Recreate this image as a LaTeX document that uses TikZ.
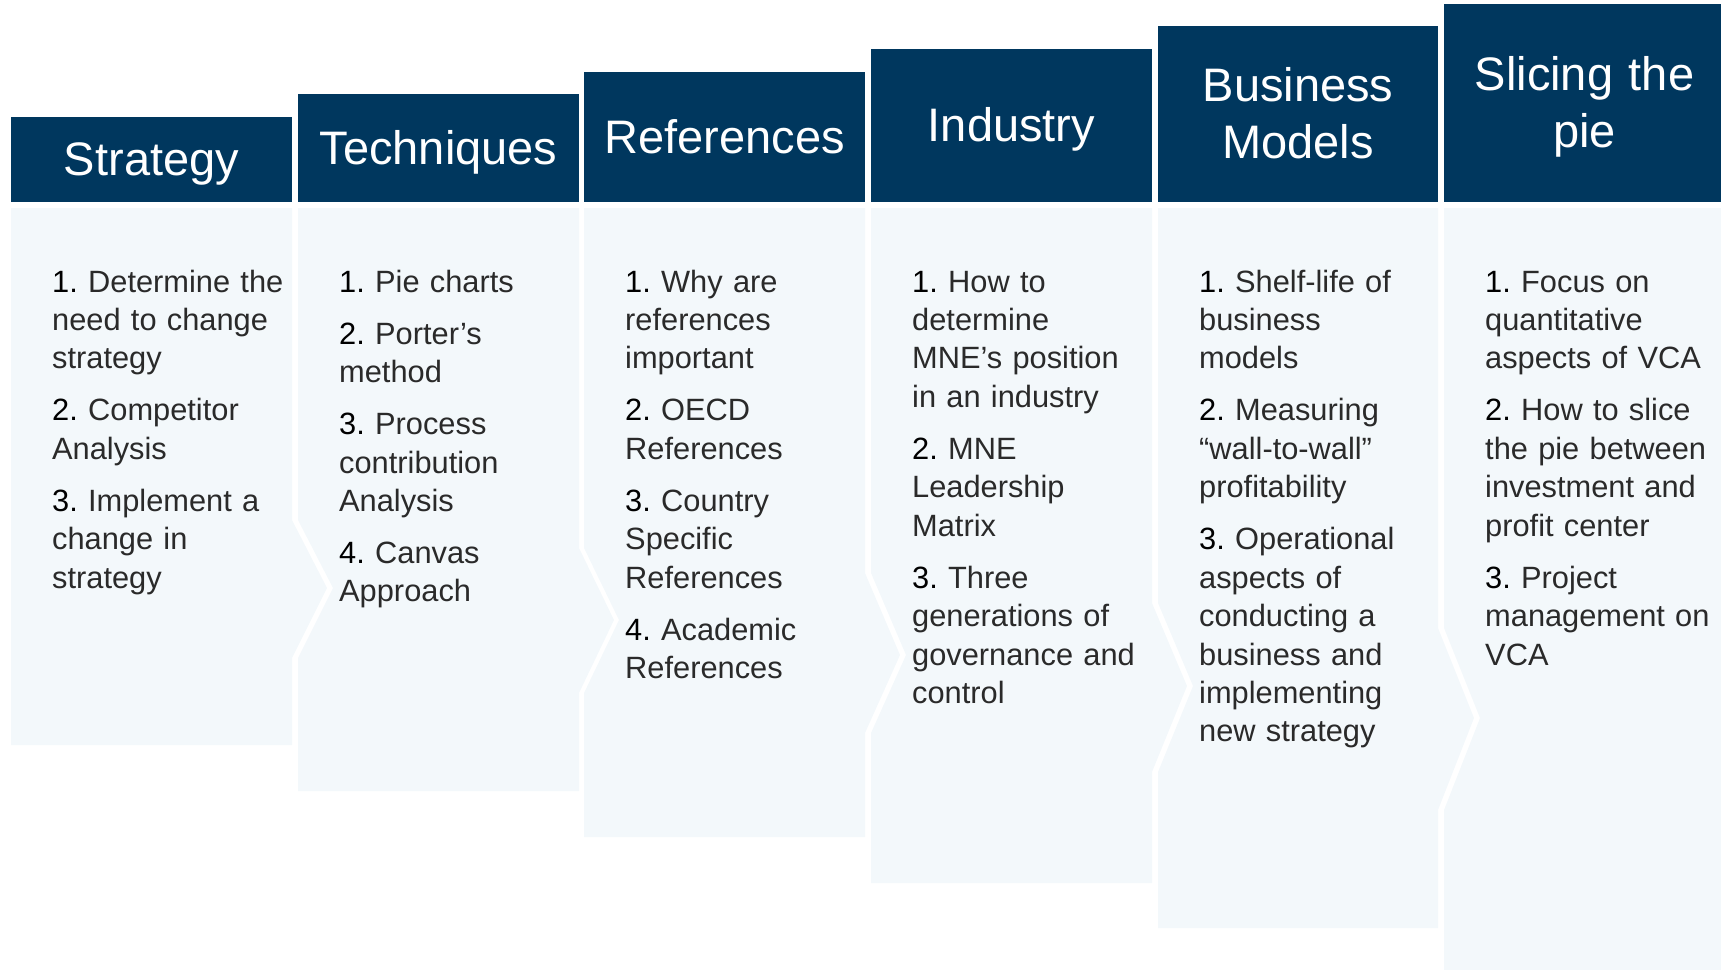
\documentclass[tikz,border=0pt]{standalone}
\usepackage{fontspec}
\setmainfont{Liberation Sans}
\frenchspacing
\definecolor{hdrblue}{RGB}{0,55,94}
\definecolor{bodybg}{RGB}{243,248,251}
\definecolor{txtgray}{RGB}{42,42,42}
\newcommand{\itnum}[1]{{\color{black}#1.}}
\tikzset{
  hdrbox/.style={fill=hdrblue},
  bodybox/.style={fill=bodybg},
  hdrtext/.style={text=white, font=\fontsize{47}{57}\selectfont, text width=281pt, align=center, inner sep=0pt, anchor=base},
  bodytext/.style={text=txtgray, font=\fontsize{30.8}{38.4}\selectfont\frenchspacing, text width=300pt, align=left, inner sep=0pt, anchor=base west},
}
\begin{document}
\begin{tikzpicture}[x=1pt,y=-1pt]
\useasboundingbox (0,0) rectangle (1721,969);
\clip (0,0) rectangle (1721,969);

% headers
\fill[hdrbox] (11,117) rectangle (292,202);
\fill[hdrbox] (298,94) rectangle (579,202);
\fill[hdrbox] (584,72) rectangle (865,202);
\fill[hdrbox] (871,49) rectangle (1152,202);
\fill[hdrbox] (1158,26) rectangle (1438,202);
\fill[hdrbox] (1444,4) rectangle (1730,202);

% bodies
\fill[bodybox] (11,208) -- (292,208) -- (292,520) -- (327,588) -- (292,658) -- (292,745) -- (11,745) -- cycle;
\fill[bodybox] (298,208) -- (579,208) -- (579,548) -- (614,620) -- (579,693) -- (579,791) -- (298,791) -- (298,658) -- (333,588) -- (298,520) -- cycle;
\fill[bodybox] (584,208) -- (865,208) -- (865,573) -- (900,655) -- (865,733) -- (865,837) -- (584,837) -- (584,693) -- (619,620) -- (584,548) -- cycle;
\fill[bodybox] (871,208) -- (1152,208) -- (1152,603) -- (1187,686) -- (1152,772) -- (1152,883) -- (871,883) -- (871,733) -- (906,655) -- (871,573) -- cycle;
\fill[bodybox] (1158,208) -- (1438,208) -- (1438,628) -- (1474,718) -- (1438,810) -- (1438,928) -- (1158,928) -- (1158,772) -- (1193,686) -- (1158,603) -- cycle;
\fill[bodybox] (1444,208) -- (1730,208) -- (1730,980) -- (1444,980) -- (1444,810) -- (1480,718) -- (1444,628) -- cycle;

% header texts
\node[hdrtext] (h1) at (151.5,175.5) {Strategy};
\node[hdrtext] (h2) at (438.5,164) {Techniques};
\node[hdrtext] (h3) at (724.5,153) {References};
\node[hdrtext] (h4) at (1011.5,141.5) {Industry};
\node[hdrtext] (h5) at (1298,101) {Business\\Models};
\node[hdrtext] (h6) at (1584.5,90) {Slicing the\\pie};

% body texts
\node[bodytext] (b1) at (52,292) {\itnum{1} Determine the\\need to change\\strategy\\[13.7pt]
\itnum{2} Competitor\\Analysis\\[13.7pt]
\itnum{3} Implement a\\change in\\strategy};

\node[bodytext] (b2) at (339,292) {\itnum{1} Pie charts\\[13.7pt]
\itnum{2} Porter’s\\method\\[13.7pt]
\itnum{3} Process\\contribution\\Analysis\\[13.7pt]
\itnum{4} Canvas\\Approach};

\node[bodytext] (b3) at (625,292) {\itnum{1} Why are\\references\\important\\[13.7pt]
\itnum{2} OECD\\References\\[13.7pt]
\itnum{3} Country\\Specific\\References\\[13.7pt]
\itnum{4} Academic\\References};

\node[bodytext] (b4) at (912,292) {\itnum{1} How to\\determine\\MNE’s position\\in an industry\\[13.7pt]
\itnum{2} MNE\\Leadership\\Matrix\\[13.7pt]
\itnum{3} Three\\generations of\\governance and\\control};

\node[bodytext] (b5) at (1199,292) {\itnum{1} Shelf-life of\\business\\models\\[13.7pt]
\itnum{2} Measuring\\“wall-to-wall”\\profitability\\[13.7pt]
\itnum{3} Operational\\aspects of\\conducting a\\business and\\implementing\\new strategy};

\node[bodytext] (b6) at (1485,292) {\itnum{1} Focus on\\quantitative\\aspects of VCA\\[13.7pt]
\itnum{2} How to slice\\the pie between\\investment and\\profit center\\[13.7pt]
\itnum{3} Project\\management on\\VCA};
\end{tikzpicture}
\end{document}
